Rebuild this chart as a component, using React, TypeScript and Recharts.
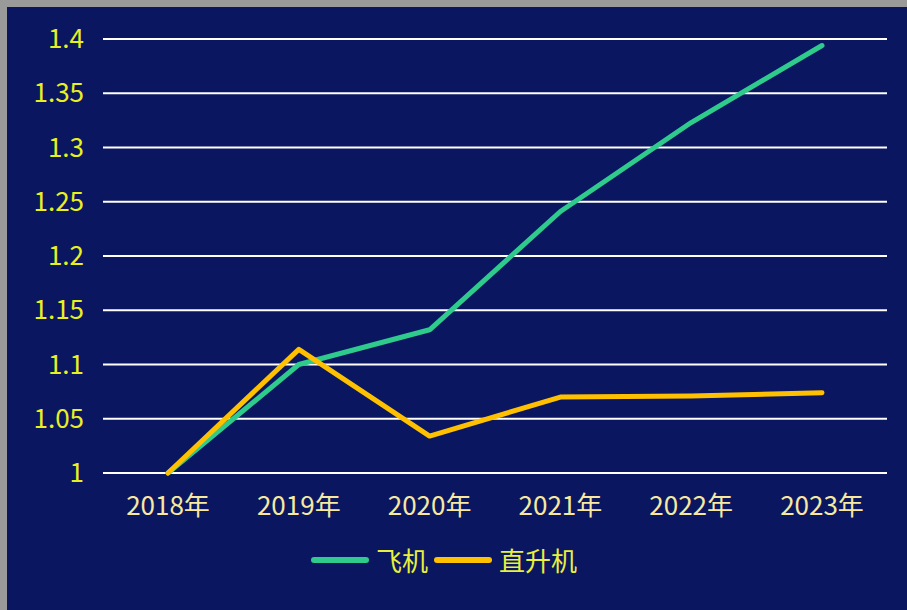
import { LineChart, Line, XAxis, YAxis, CartesianGrid, Legend } from 'recharts';

const years = ['2018年', '2019年', '2020年', '2021年', '2022年', '2023年'];
const plane = [1.0, 1.1, 1.132, 1.241, 1.323, 1.394];
const helicopter = [1.0, 1.114, 1.034, 1.07, 1.071, 1.074];
const yTicks = [1, 1.05, 1.1, 1.15, 1.2, 1.25, 1.3, 1.35, 1.4];

const SERIES = [
  { key: 'plane', name: '飞机', color: '#2ecb8c' },
  { key: 'helicopter', name: '直升机', color: '#ffc000' },
];

const FONT = '"Noto Sans CJK SC", "Noto Sans", sans-serif';

const data = years.map((year, i) => ({
  year,
  plane: plane[i],
  helicopter: helicopter[i],
}));

const LegendContent = () => (
  <div style={{ display: 'flex', justifyContent: 'center', alignItems: 'center', height: 60 }}>
    {SERIES.map((s) => (
      <div key={s.key} style={{ display: 'flex', alignItems: 'center', marginRight: 6 }}>
        <div style={{ width: 58, height: 6, borderRadius: 3, background: s.color, marginRight: 7 }} />
        <span style={{ color: '#e8f03c', fontSize: 26, fontFamily: FONT, lineHeight: '30px' }}>{s.name}</span>
      </div>
    ))}
  </div>
);

export default function App() {
  return (
    <div style={{ position: 'absolute', left: 0, top: 0, width: 907, height: 610, background: '#9a9a9a' }}>
      <div style={{ position: 'absolute', left: 7, top: 7, width: 900, height: 603, background: '#0a1760' }}>
        <LineChart
          width={900}
          height={603}
          data={data}
          margin={{ top: 32, right: 20, left: 0, bottom: 20 }}
        >
          <CartesianGrid horizontal vertical={false} stroke="#ffffff" strokeWidth={2} />
          <XAxis
            dataKey="year"
            padding={{ left: 65, right: 65 }}
            axisLine={false}
            tickLine={false}
            tickMargin={18}
            height={57}
            tick={{ fill: '#f8e9a1', fontSize: 26, fontFamily: FONT }}
          />
          <YAxis
            domain={[1, 1.4]}
            ticks={yTicks}
            width={96}
            axisLine={false}
            tickLine={false}
            tickMargin={13}
            tick={{ fill: '#e8f01e', fontSize: 26, fontFamily: FONT }}
          />
          <Legend verticalAlign="bottom" height={60} content={<LegendContent />} />
          {SERIES.map((s) => (
            <Line
              key={s.key}
              type="linear"
              dataKey={s.key}
              name={s.name}
              stroke={s.color}
              strokeWidth={5}
              strokeLinecap="round"
              strokeLinejoin="round"
              dot={false}
              activeDot={false}
              isAnimationActive={false}
            />
          ))}
        </LineChart>
      </div>
    </div>
  );
}
